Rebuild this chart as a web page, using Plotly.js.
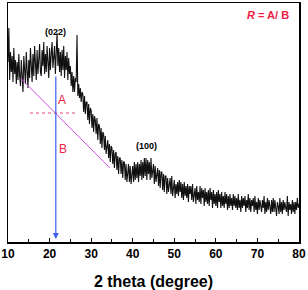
<!DOCTYPE html>
<html><head><meta charset="utf-8">
<script src="https://cdn.plot.ly/plotly-3.0.1.min.js"></script>
<style>html,body{margin:0;padding:0;background:#fff}#c{width:308px;height:290px}</style>
</head><body><div id="c"></div>
<script>
var twoTheta = [
10,10.2,10.4,10.6,10.8,11,11.2,11.4,11.6,11.8,12,12.2,12.4,12.6,12.8,13,13.2,13.4,13.6,13.8,
14,14.2,14.4,14.6,14.8,15,15.2,15.4,15.6,15.8,16,16.2,16.4,16.6,16.8,17,17.2,17.4,17.6,17.8,
18,18.2,18.4,18.6,18.8,19,19.2,19.4,19.6,19.8,20,20.2,20.4,20.6,20.8,21,21.2,21.4,21.6,21.8,
22,22.2,22.4,22.6,22.8,23,23.2,23.4,23.6,23.8,24,24.2,24.4,24.6,24.8,25,25.2,25.4,25.6,25.8,
26,26.2,26.4,26.6,26.8,27,27.2,27.4,27.6,27.8,28,28.2,28.4,28.6,28.8,29,29.2,29.4,29.6,29.8,
30,30.2,30.4,30.6,30.8,31,31.2,31.4,31.6,31.8,32,32.2,32.4,32.6,32.8,33,33.2,33.4,33.6,33.8,
34,34.2,34.4,34.6,34.8,35,35.2,35.4,35.6,35.8,36,36.2,36.4,36.6,36.8,37,37.2,37.4,37.6,37.8,
38,38.2,38.4,38.6,38.8,39,39.2,39.4,39.6,39.8,40,40.2,40.4,40.6,40.8,41,41.2,41.4,41.6,41.8,
42,42.2,42.4,42.6,42.8,43,43.2,43.4,43.6,43.8,44,44.2,44.4,44.6,44.8,45,45.2,45.4,45.6,45.8,
46,46.2,46.4,46.6,46.8,47,47.2,47.4,47.6,47.8,48,48.2,48.4,48.6,48.8,49,49.2,49.4,49.6,49.8,
50,50.2,50.4,50.6,50.8,51,51.2,51.4,51.6,51.8,52,52.2,52.4,52.6,52.8,53,53.2,53.4,53.6,53.8,
54,54.2,54.4,54.6,54.8,55,55.2,55.4,55.6,55.8,56,56.2,56.4,56.6,56.8,57,57.2,57.4,57.6,57.8,
58,58.2,58.4,58.6,58.8,59,59.2,59.4,59.6,59.8,60,60.2,60.4,60.6,60.8,61,61.2,61.4,61.6,61.8,
62,62.2,62.4,62.6,62.8,63,63.2,63.4,63.6,63.8,64,64.2,64.4,64.6,64.8,65,65.2,65.4,65.6,65.8,
66,66.2,66.4,66.6,66.8,67,67.2,67.4,67.6,67.8,68,68.2,68.4,68.6,68.8,69,69.2,69.4,69.6,69.8,
70,70.2,70.4,70.6,70.8,71,71.2,71.4,71.6,71.8,72,72.2,72.4,72.6,72.8,73,73.2,73.4,73.6,73.8,
74,74.2,74.4,74.6,74.8,75,75.2,75.4,75.6,75.8,76,76.2,76.4,76.6,76.8,77,77.2,77.4,77.6,77.8,
78,78.2,78.4,78.6,78.8,79,79.2,79.4,79.6,79.8,80];
var intensity = [
180,214,162,190,170, 186,160,194,168,182, 158,180,162,188,166, 156,182,164,150,186,
170,158,190,166,154, 182,164,194,172,160, 188,166,196,174,162, 192,168,182,198,170,
166,192,176,200,168, 188,170,196,178,164, 194,172,188,200,174, 184,196,168,190,209,
176,194,170,190,166, 192,172,196,164,186, 172,190,162,184,168, 176,156,170,150,166,
150,164,160,207,146, 158,144,154,140,150, 148,130,146,128,140, 140,122,138,118,134,
132,114,128,110,126, 122,108,124,102,118, 116,98,114,94,110, 108,92,106,88,100,
102,84,98,80,96, 94,78,92,74,88, 90,72,86,68,84, 84,68,82,64,80,
80,62,78,60,76, 78,60,76,58,74, 76,60,80,62,78, 64,80,60,78,66,
82,62,80,64,84, 66,84,62,82,68, 80,62,84,64,76, 78,58,76,60,72,
74,56,72,54,70, 70,52,68,50,66, 66,48,64,50,62, 64,48,66,46,60,
62,44,58,48,60, 46,62,50,60,44, 58,42,60,46,56, 44,58,40,56,48,
56,42,58,40,52, 54,38,56,42,50, 40,56,38,54,44, 52,36,54,40,50,
38,52,36,54,42, 50,34,52,38,48, 36,50,34,52,40, 48,34,50,36,46,
34,50,38,48,32, 46,34,48,36,44, 32,48,36,46,34, 44,32,48,34,42,
30,46,34,44,36, 46,30,42,34,48, 32,44,30,42,36, 44,30,46,32,40,
28,44,32,42,36, 30,42,34,46,28, 40,30,44,32,42, 34,28,42,30,44,
30,42,34,26,40, 36,28,44,30,40, 28,42,32,40,34, 30,46,26,40,32,
38,28,42,30,40, 28,40,32,44,34, 38];
var xTicks = [10,20,30,40,50,60,70,80];
var baselineX = [13, 34.5];
var baselineY = [164, 74];
var levelX = [15.3, 26.1];
var levelY = [129, 129];
var peakPos = 21.5;
var arrowTop = 167;
var arrowBottom = 3;

var traces = [
 {x: twoTheta, y: intensity, type:'scatter', mode:'lines', line:{color:'#111', width:1.1}, hoverinfo:'skip'},
 {x: baselineX, y: baselineY, type:'scatter', mode:'lines', line:{color:'#cc55dd', width:1}, hoverinfo:'skip'},
 {x: levelX, y: levelY, type:'scatter', mode:'lines', line:{color:'#e8457a', width:1, dash:'dot'}, hoverinfo:'skip'}
];
var bold = 'Arial, Liberation Sans, sans-serif';
var layout = {
 width:308, height:290,
 margin:{l:8, r:9, t:3, b:48},
 paper_bgcolor:'#fff', plot_bgcolor:'#fff',
 showlegend:false,
 xaxis:{range:[10,80], tickvals:xTicks, ticktext:xTicks.map(function(v){return '<b>'+v+'</b>';}),
   ticks:'inside', ticklen:4, tickwidth:1.2, tickcolor:'#000',
   minor:{dtick:5, tick0:10, ticks:'inside', ticklen:3, tickwidth:1, tickcolor:'#000', showgrid:false},
   showline:true, mirror:true, linecolor:'#000', linewidth:1.5, showgrid:false, zeroline:false,
   tickfont:{family:bold, size:12, color:'#000'},
   title:{text:'<b>2 theta (degree)</b>', font:{family:bold, size:16, color:'#000'}, standoff:16}},
 yaxis:{range:[0,239], showticklabels:false, ticks:'', showline:true, mirror:true, linecolor:'#000', linewidth:1.5, showgrid:false, zeroline:false},
 annotations:[
  {x:peakPos, y:arrowBottom, ax:peakPos, ay:arrowTop, axref:'x', ayref:'y', xref:'x', yref:'y', showarrow:true, arrowhead:2, arrowsize:1, arrowwidth:1.2, arrowcolor:'#3a5ef0', text:''},
  {x:21.5, y:210, text:'<b>(022)</b>', showarrow:false, font:{family:bold, size:9, color:'#000'}},
  {x:43.2, y:96, text:'<b>(100)</b>', showarrow:false, font:{family:bold, size:9, color:'#000'}},
  {x:23.0, y:142, text:'A', showarrow:false, font:{family:bold, size:12, color:'#ee2244'}},
  {x:23.2, y:93, text:'B', showarrow:false, font:{family:bold, size:12, color:'#ee2244'}},
  {x:72.5, y:227, text:'<b><i>R</i> = A/ B</b>', showarrow:false, font:{family:bold, size:11, color:'#ee2244'}}
 ]
};
Plotly.newPlot('c', traces, layout, {staticPlot:true, displayModeBar:false});
</script></body></html>
